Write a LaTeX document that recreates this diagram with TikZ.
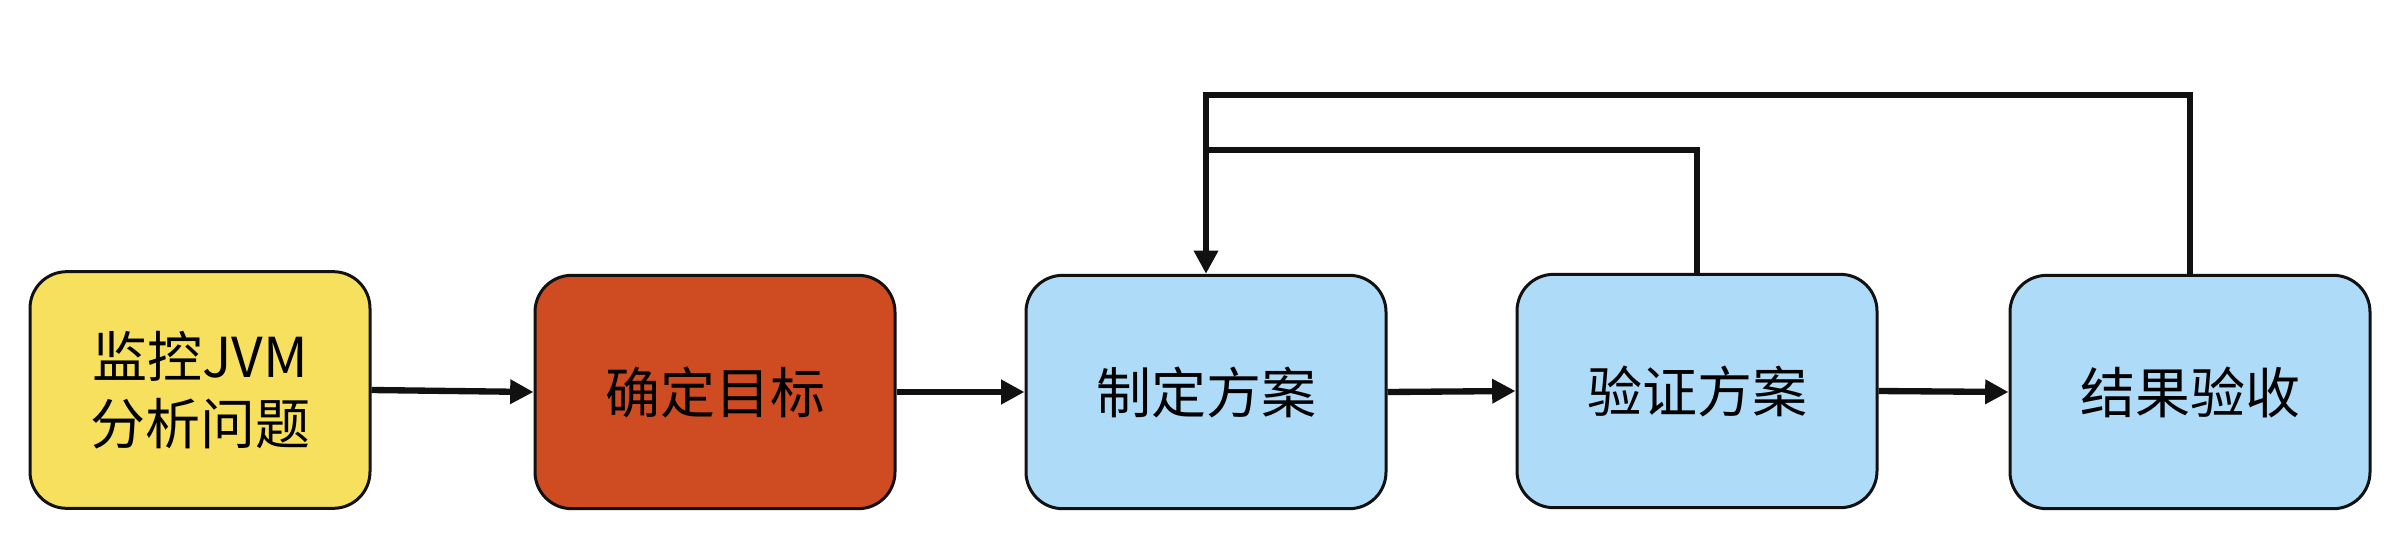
\documentclass[tikz,border=0pt]{standalone}
\usepackage{fontspec}
\newfontfamily\cjk{Noto Sans CJK SC}
\usetikzlibrary{arrows.meta}
\definecolor{cyellow}{HTML}{F6E05E}
\definecolor{cred}{HTML}{CF4B22}
\definecolor{cblue}{HTML}{AEDCF8}
\definecolor{cline}{HTML}{111111}
\tikzset{
  stepbox/.style={draw=cline, line width=0.9pt, rounded corners=11pt, inner sep=0pt,
    font=\cjk\fontsize{16.5}{20}\selectfont, align=center, text=black},
  flow/.style={draw=cline, line width=1.9pt, -{Triangle[length=7pt,width=7pt]}},
  back/.style={draw=cline, line width=1.9pt},
}
\begin{document}
\begin{tikzpicture}[x=0.3pt,y=-0.3pt]
\useasboundingbox (0,0) rectangle (2398,538);
\node[stepbox, fill=cyellow, minimum width=102pt, minimum height=71pt] (a) at (200,390) {监控JVM\\分析问题};
\node[stepbox, fill=cred, minimum width=108pt, minimum height=70pt] (b) at (715,392) {确定目标};
\node[stepbox, fill=cblue, minimum width=108pt, minimum height=70pt] (c) at (1206,392) {制定方案};
\node[stepbox, fill=cblue, minimum width=108pt, minimum height=70pt] (d) at (1697,391) {验证方案};
\node[stepbox, fill=cblue, minimum width=108pt, minimum height=70pt] (e) at (2190,392) {结果验收};
\draw[flow] (a.east) -- (b.west);
\draw[flow] (b.east) -- (c.west);
\draw[flow] (c.east) -- (d.west);
\draw[flow] (d.east) -- (e.west);
\coordinate (top) at (0,95);
\coordinate (mid) at (0,150);
\draw[back] (d.north) -- (d.north |- mid) -- (c.north |- mid);
\draw[back, -{Triangle[length=7pt,width=7pt]}] (e.north) -- (e.north |- top) -- (c.north |- top) -- (c.north);
\end{tikzpicture}
\end{document}
